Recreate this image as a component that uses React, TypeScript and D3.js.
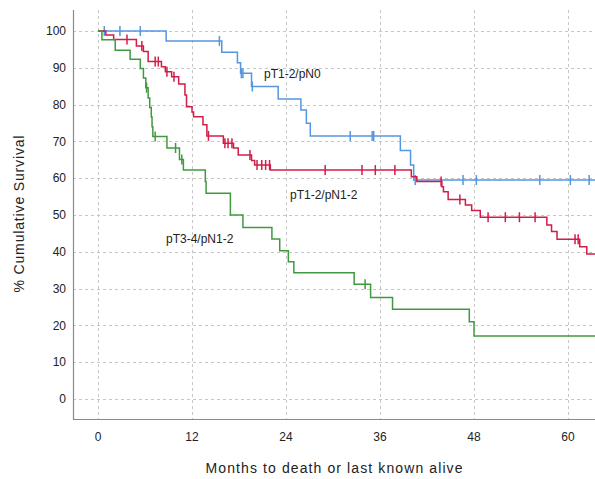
import React, {useEffect, useRef} from "react";
import * as d3 from "d3";

// Kaplan-Meier steps: [month, % surviving after the event]
const pN0Steps: [number, number][] = [
  [0, 100], [8.7, 97.3], [15.8, 94.2], [17.8, 91.4], [18.2, 88.5], [19.6, 84.9],
  [23.0, 81.5], [25.9, 78.5], [26.6, 74.9], [27.1, 71.5], [38.6, 67.5],
  [39.9, 63.6], [40.3, 59.5],
];
const pN0Censor = [0.8, 2.8, 5.4, 15.5, 18.3, 18.5, 19.7, 32.2, 35.0, 35.2, 40.5, 46.6, 48.3, 56.4, 60.3, 62.7];

const pN12Steps: [number, number][] = [
  [0, 100], [1.0, 98.9], [2.0, 97.7], [4.9, 95.9], [5.8, 94.4], [6.4, 91.7],
  [8.1, 90.3], [8.6, 88.9], [9.4, 87.6], [10.3, 85.6], [11.1, 82.6], [11.3, 79.4],
  [12.0, 78.0], [12.2, 76.7], [13.4, 74.5], [13.9, 71.5], [16.0, 69.5],
  [17.3, 68.2], [17.9, 66.3], [19.6, 64.8], [20.0, 63.6], [22.0, 62.2],
  [40.0, 60.4], [40.7, 59.1], [43.9, 57.7], [44.1, 56.3], [44.7, 54.2],
  [46.9, 52.7], [47.7, 51.2], [48.8, 49.4], [57.3, 47.3], [57.9, 45.5],
  [58.6, 43.4], [61.5, 41.4], [62.4, 39.4],
];
const pN12Censor = [3.7, 5.6, 7.3, 7.7, 8.8, 9.7, 14.1, 16.2, 16.6, 17.1, 19.4, 20.3, 20.9, 21.4, 21.9, 29.0, 33.7, 35.4, 37.9, 43.8, 46.2, 49.8, 52.0, 53.8, 55.8, 60.9, 61.3];

const pT34Steps: [number, number][] = [
  [0, 100], [0.5, 97.6], [2.2, 94.8], [4.1, 92.3], [5.4, 89.8], [5.8, 87.2],
  [6.1, 84.6], [6.4, 81.8], [6.6, 79.2], [6.8, 76.6], [6.9, 74.0], [7.0, 71.3],
  [8.8, 68.2], [10.4, 65.1], [10.9, 62.2], [13.7, 59.1], [13.8, 55.9],
  [16.9, 50.0], [18.5, 46.6], [22.2, 43.5], [23.2, 40.3], [24.3, 37.3],
  [25.0, 34.3], [32.7, 31.2], [34.8, 27.6], [37.6, 24.4], [47.4, 21.0], [48.0, 17.1],
];
const pT34Censor = [6.2, 7.3, 9.9, 10.7, 34.1];

const series = [
  {name: "pT1-2/pN0", steps: pN0Steps, censor: pN0Censor, color: "#5596e0", label: [264, 78]},
  {name: "pT1-2/pN1-2", steps: pN12Steps, censor: pN12Censor, color: "#d21d48", label: [290, 199]},
  {name: "pT3-4/pN1-2", steps: pT34Steps, censor: pT34Censor, color: "#3f9a3f", label: [166, 243]},
];

const xTicks = [0, 12, 24, 36, 48, 60];
const yTicks = [0, 10, 20, 30, 40, 50, 60, 70, 80, 90, 100];
const endMonth = 64;

export default function App() {
  const ref = useRef<SVGSVGElement>(null);
  const width = 595;
  const height = 479;
  const left = 73, right = 595, top = 10, bottom = 419;
  const font = "'Liberation Sans', Arial, sans-serif";

  useEffect(() => {
    const svg = d3.select(ref.current);
    svg.selectAll("*").remove();

    const x = d3.scaleLinear().domain([0, 60]).range([98, 568]);
    const y = d3.scaleLinear().domain([0, 100]).range([399, 31]);

    svg.append("defs").append("clipPath").attr("id", "plot")
      .append("rect").attr("x", left).attr("y", top)
      .attr("width", right - left).attr("height", bottom - top);

    // grid
    const grid = svg.append("g")
      .attr("stroke", "#c6c6c6").attr("stroke-dasharray", "3,3").attr("stroke-width", 1);
    grid.selectAll("line.h").data(yTicks).join("line")
      .attr("x1", left).attr("x2", right)
      .attr("y1", d => Math.round(y(d)) + 0.5).attr("y2", d => Math.round(y(d)) + 0.5);
    grid.selectAll("line.v").data(xTicks).join("line").attr("class", "v")
      .attr("y1", top).attr("y2", bottom)
      .attr("x1", d => Math.round(x(d)) + 0.5).attr("x2", d => Math.round(x(d)) + 0.5);

    // axes
    svg.append("path")
      .attr("d", `M${left + 0.5},${top}V${bottom + 0.5}H${right}`)
      .attr("fill", "none").attr("stroke", "#8a8a8a").attr("stroke-width", 1.2);

    svg.append("g").selectAll("text").data(yTicks).join("text")
      .attr("x", 66).attr("y", d => y(d)).attr("dy", "0.35em")
      .attr("text-anchor", "end").attr("font-family", font).attr("font-size", 12)
      .attr("fill", "#222").text(d => d);
    svg.append("g").selectAll("text").data(xTicks).join("text")
      .attr("x", d => x(d)).attr("y", 441)
      .attr("text-anchor", "middle").attr("font-family", font).attr("font-size", 12)
      .attr("fill", "#222").text(d => d);

    svg.append("text")
      .attr("transform", `translate(24,214) rotate(-90)`)
      .attr("text-anchor", "middle").attr("font-family", font).attr("font-size", 14)
      .attr("textLength", 157).attr("lengthAdjust", "spacing")
      .attr("fill", "#222").text("% Cumulative Survival");
    svg.append("text")
      .attr("x", 334).attr("y", 473)
      .attr("text-anchor", "middle").attr("font-family", font).attr("font-size", 14)
      .attr("textLength", 257).attr("lengthAdjust", "spacing")
      .attr("fill", "#222").text("Months to death or last known alive");

    const line = d3.line<[number, number]>()
      .x(d => x(d[0])).y(d => y(d[1]))
      .curve(d3.curveStepAfter);

    const plot = svg.append("g").attr("clip-path", "url(#plot)");
    series.forEach(s => {
      const pts = [...s.steps, [endMonth, s.steps[s.steps.length - 1][1]] as [number, number]];
      plot.append("path").attr("d", line(pts))
        .attr("fill", "none").attr("stroke", s.color).attr("stroke-width", 1.5);
      const valueAt = (t: number) => {
        let v = 100;
        s.steps.forEach(([m, p]) => { if (m <= t) v = p; });
        return v;
      };
      plot.selectAll(null).data(s.censor).join("line")
        .attr("x1", d => x(d)).attr("x2", d => x(d))
        .attr("y1", d => y(valueAt(d)) - 5).attr("y2", d => y(valueAt(d)) + 5)
        .attr("stroke", s.color).attr("stroke-width", 1.5);
      svg.append("text")
        .attr("x", s.label[0]).attr("y", s.label[1])
        .attr("font-family", font).attr("font-size", 12)
        .attr("fill", "#222").text(s.name);
    });
  }, []);

  return (
    <svg ref={ref} width={width} height={height}
      style={{position: "absolute", left: 0, top: 0, background: "#fff"}}/>
  );
}
